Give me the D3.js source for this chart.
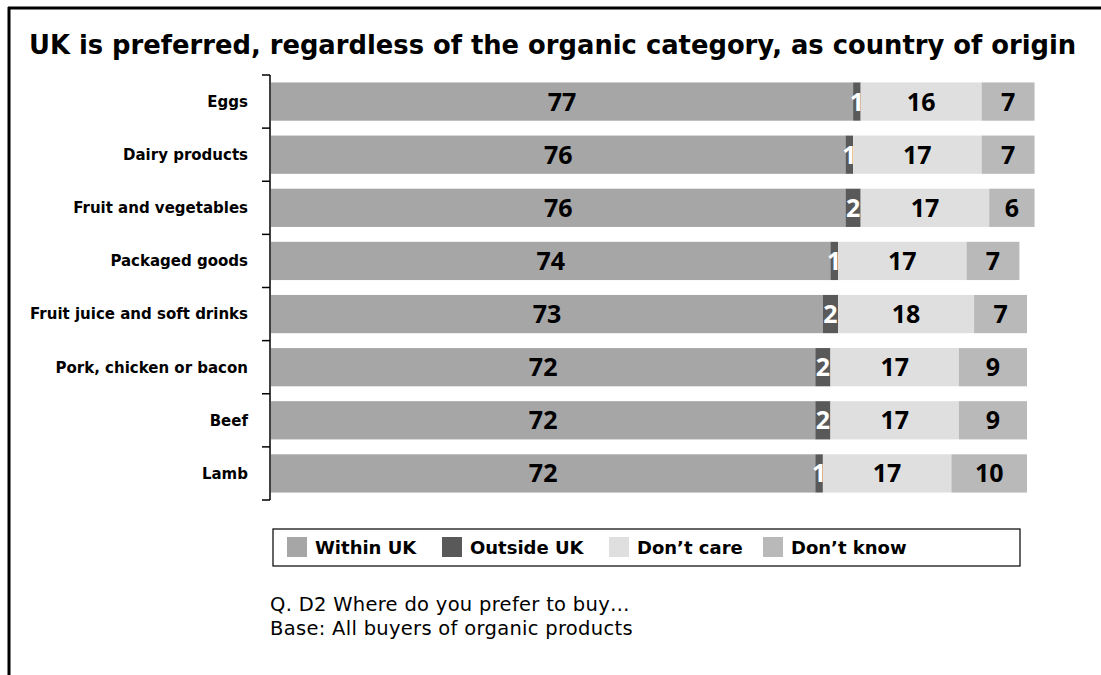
<!DOCTYPE html>
<html>
<head>
<meta charset="utf-8">
<script src="https://cdn.jsdelivr.net/npm/d3@7"></script>
<style>
  html, body { margin: 0; padding: 0; background: #fff; }
  svg { display: block; font-family: "DejaVu Sans", sans-serif; }
</style>
</head>
<body>
<svg id="chart" width="1101" height="675"></svg>
<script>
// Stacked horizontal bars: preferred country of origin by organic category
const categories = [
  "Eggs", "Dairy products", "Fruit and vegetables", "Packaged goods",
  "Fruit juice and soft drinks", "Pork, chicken or bacon", "Beef", "Lamb"
];
const seriesNames = ["Within UK", "Outside UK", "Don\u2019t care", "Don\u2019t know"];
const withinUK  = [77, 76, 76, 74, 73, 72, 72, 72];
const outsideUK = [1, 1, 2, 1, 2, 2, 2, 1];
const dontCare  = [16, 17, 17, 17, 18, 17, 17, 17];
const dontKnow  = [7, 7, 6, 7, 7, 9, 9, 10];
const seriesColors = ["#a6a6a6", "#595959", "#dfdfdf", "#b9b9b9"];
const labelColors  = ["#000", "#fff", "#000", "#000"];

const titleText = "UK is preferred, regardless of the organic category, as country of origin";
const noteLines = ["Q. D2 Where do you prefer to buy\u2026", "Base: All buyers of organic products"];

const table = categories.map((c, i) => ({
  category: c,
  "Within UK": withinUK[i],
  "Outside UK": outsideUK[i],
  "Don\u2019t care": dontCare[i],
  "Don\u2019t know": dontKnow[i]
}));
const stacked = d3.stack().keys(seriesNames)(table);

const svg = d3.select("#chart");

// Frame: top and left rules
svg.append("line").attr("x1", 8).attr("x2", 1101).attr("y1", 8).attr("y2", 8)
  .attr("stroke", "#000").attr("stroke-width", 3);
svg.append("line").attr("x1", 9).attr("x2", 9).attr("y1", 7).attr("y2", 675)
  .attr("stroke", "#000").attr("stroke-width", 3);

// Title
svg.append("text").attr("x", 29).attr("y", 54)
  .attr("font-size", 25.8).attr("font-weight", "bold").attr("fill", "#000")
  .text(titleText);

const plot = { left: 271, top: 75, bottom: 500 };
const x = d3.scaleLinear().domain([0, 100]).range([plot.left, plot.left + 756]);
const y = d3.scaleBand().domain(categories).range([plot.top, plot.bottom]).paddingInner(0.28).paddingOuter(0.14);

// Bars
const layers = svg.append("g").selectAll("g").data(stacked).join("g")
  .attr("fill", (d, i) => seriesColors[i]);
layers.selectAll("rect").data(d => d).join("rect")
  .attr("x", d => x(d[0]))
  .attr("y", d => y(d.data.category))
  .attr("width", d => x(d[1]) - x(d[0]))
  .attr("height", y.bandwidth());

// Value labels
stacked.forEach((layer, si) => {
  svg.append("g").selectAll("text").data(layer).join("text")
    .attr("x", d => (x(d[0]) + x(d[1])) / 2)
    .attr("y", d => y(d.data.category) + y.bandwidth() / 2)
    .attr("dy", "0.36em")
    .attr("text-anchor", "middle")
    .attr("font-family", "'Open Sans', sans-serif")
    .attr("font-size", 25).attr("font-weight", "bold")
    .attr("fill", labelColors[si])
    .text(d => d[1] - d[0]);
});

// Category axis with ticks between bands
const boundaries = categories.map(c => y(c) - y.step() * y.paddingInner() / 2);
boundaries[0] = plot.top;
boundaries.push(plot.bottom);
const axisG = svg.append("g");
axisG.append("line").attr("x1", 270).attr("x2", 270).attr("y1", plot.top).attr("y2", plot.bottom)
  .attr("stroke", "#000").attr("stroke-width", 1.5);
axisG.selectAll("line.tick").data(boundaries).join("line").attr("class", "tick")
  .attr("x1", 262).attr("x2", 270).attr("y1", d => d).attr("y2", d => d)
  .attr("stroke", "#000").attr("stroke-width", 1.5);
axisG.selectAll("text").data(categories).join("text")
  .attr("x", 248)
  .attr("y", d => y(d) + y.bandwidth() / 2)
  .attr("dy", "0.36em")
  .attr("text-anchor", "end")
  .attr("font-size", 15).attr("font-weight", "bold").attr("fill", "#000")
  .text(d => d);

// Legend
const legend = svg.append("g");
legend.append("rect").attr("x", 273).attr("y", 529).attr("width", 747).attr("height", 37)
  .attr("fill", "#fff").attr("stroke", "#000").attr("stroke-width", 1.2);
const legendX = [287, 442, 609, 763];
seriesNames.forEach((name, i) => {
  legend.append("rect").attr("x", legendX[i]).attr("y", 537).attr("width", 20).attr("height", 20)
    .attr("fill", seriesColors[i]);
  legend.append("text").attr("x", legendX[i] + 28).attr("y", 554)
    .attr("font-size", 18).attr("font-weight", "bold").attr("fill", "#000")
    .text(name);
});

// Notes
svg.append("g").selectAll("text").data(noteLines).join("text")
  .attr("x", 270).attr("y", (d, i) => 611 + i * 24)
  .attr("font-size", 19.5).attr("letter-spacing", 0.3).attr("fill", "#000")
  .text(d => d);
</script>
</body>
</html>
